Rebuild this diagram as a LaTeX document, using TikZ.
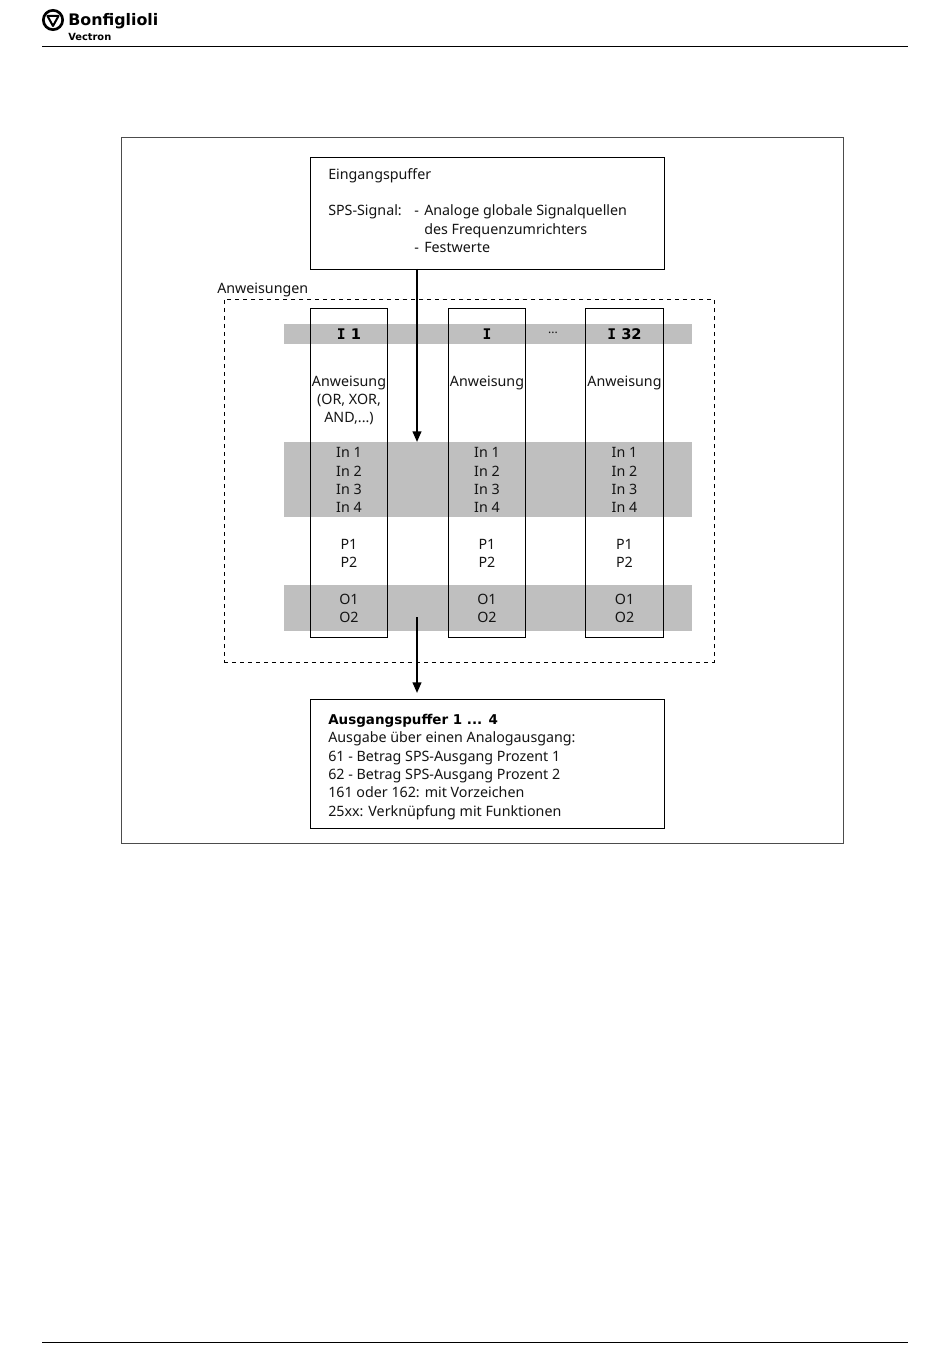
\documentclass[tikz,border=0pt]{standalone}
\usepackage{fontspec}
\setmainfont{Noto Sans}
\newfontfamily\heavyfont{DejaVu Sans Bold}
\newfontfamily\slabfont{DejaVu Sans Mono Bold}
\usetikzlibrary{positioning, arrows.meta, calc}

\begin{document}
\begin{tikzpicture}[
    x=0.75pt, y=-0.75pt,
    font=\fontsize{10.7pt}{13.7pt}\selectfont\color{black!92},
    framebox/.style={draw=black, line width=0.7pt, fill=none, inner sep=0pt, outer sep=0pt, anchor=north west},
    graybar/.style={fill=black!25, draw=none},
    rowtext/.style={inner sep=0pt, align=center, anchor=base},
    linetext/.style={inner sep=0pt, anchor=base west},
    boldtext/.style={font=\fontsize{10.1pt}{13pt}\selectfont\heavyfont},
    headtext/.style={font=\fontsize{11pt}{13pt}\selectfont\heavyfont},
    flowarrow/.style={line width=1.5pt, draw=black, -{Triangle[length=8pt, width=6.5pt]}}
]

% Page size
\useasboundingbox (0,0) rectangle (950,1369);
\fill[white] (0,0) rectangle (950,1369);

% Header and footer rules
\draw[line width=0.7pt] (42,46) -- (908,46);
\draw[line width=0.7pt] (42,1342) -- (908,1342);

% Logo
\node[circle, draw=black, line width=2pt, minimum size=14.5pt, inner sep=0pt] (logoring) at (53,20) {};
\draw[line width=1.5pt, line join=round] (47.5,16) -- (58.5,16) -- (53,26) -- cycle;
\node[linetext, text=black, font=\fontsize{11.9pt}{14pt}\selectfont\heavyfont] (logoname) at (68,26) {Bonfiglioli};
\node[linetext, text=black, font=\fontsize{7.4pt}{8pt}\selectfont\heavyfont] (logosub) at (68,41) {Vectron};

% Outer frame
\node[framebox, draw=black!70, minimum width=722*0.75pt, minimum height=706*0.75pt] (outer) at (121.5,137.5) {};

% Gray bars
\fill[graybar] (284,324) rectangle (692,344);
\fill[graybar] (284,442) rectangle (692,517);
\fill[graybar] (284,585) rectangle (692,631);

% Dashed frame
\node[framebox, dashed, line width=0.5pt, minimum width=490*0.75pt, minimum height=363*0.75pt] (group) at (224,299) {};
\node[linetext] (grouplabel) at (217,294) {Anweisungen};

% Input buffer
\node[framebox, minimum width=354*0.75pt, minimum height=112*0.75pt] (inbuf) at (310,157) {};
\node[linetext] (intitle) at (328,179.5) {Eingangspuffer};
\node[linetext] (insignal) at (328,216) {SPS-Signal:};
\node[linetext] (dashone) at (414,216) {-};
\node[linetext] (inline1) at (424,216) {Analoge globale Signalquellen};
\node[linetext] (inline2) at (424,234.5) {des Frequenzumrichters};
\node[linetext] (dashtwo) at (414,252.5) {-};
\node[linetext] (inline3) at (424,252.5) {Festwerte};

% Columns
\foreach \name/\left/\wid/\mid/\head in {a/310/77/349/{\slabfont I} 1, b/448/77/487/{\slabfont I}, c/585/78/624.5/{\slabfont I} 32} {
    \node[framebox, minimum width=\wid*0.75pt, minimum height=329*0.75pt] (col\name) at (\left,308) {};
    \node[rowtext, headtext] (head\name) at (\mid,339.5) {\head};
    \node[rowtext] (instr\name) at (\mid,386) {Anweisung};
    \foreach \row/\ypos in {In 1/457.5, In 2/476, In 3/494, In 4/512.5, P1/549, P2/567.5, O1/604, O2/622.5} {
        \node[rowtext] at (\mid,\ypos) {\row};
    }
}
\node[rowtext] (instrmore) at (349,404.5) {(OR, XOR,};
\node[rowtext] (instrlast) at (349,422.5) {AND,...)};
\node[rowtext] (dots) at (553,334) {\fontsize{9pt}{9pt}\selectfont ...};

% Output buffer
\node[framebox, minimum width=354*0.75pt, minimum height=129*0.75pt] (outbuf) at (310,699) {};
\node[linetext, boldtext] (outtitle) at (328,724) {Ausgangspuffer 1 ... 4};
\foreach \row/\ypos in {Ausgabe über einen Analogausgang:/742.5, 61 - Betrag SPS-Ausgang Prozent 1/761, 62 - Betrag SPS-Ausgang Prozent 2/779, 161 oder 162: mit Vorzeichen/797.5, 25xx: Verknüpfung mit Funktionen/816} {
    \node[linetext] at (328,\ypos) {\row};
}

% Arrows
\coordinate (intip) at (417,442);
\coordinate (outstart) at (417,617);
\coordinate (outtip) at (417,693);
\draw[flowarrow] (inbuf.south -| intip) -- (intip);
\draw[flowarrow] (outstart) -- (outtip);

\end{tikzpicture}
\end{document}
